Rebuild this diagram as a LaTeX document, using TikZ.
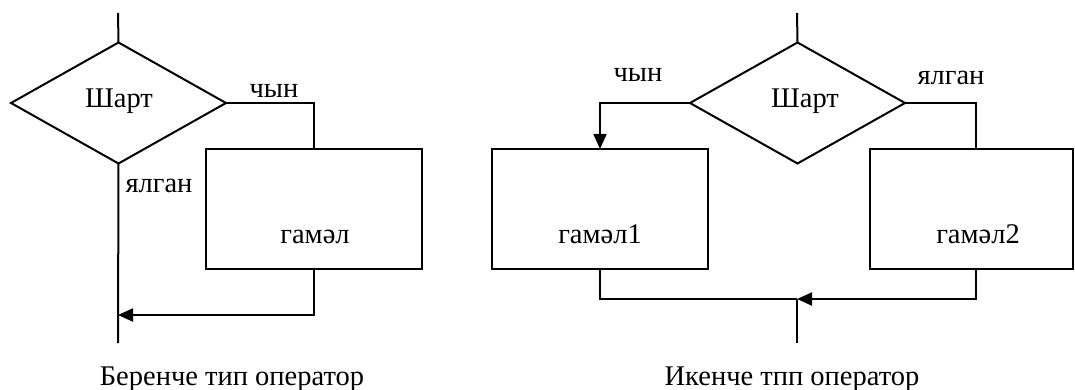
\documentclass[tikz,border=0pt]{standalone}
\usepackage{fontspec}
\setmainfont{Liberation Serif}
\usetikzlibrary{shapes.geometric,arrows.meta}
\tikzset{
  flow/.style={line width=2pt, line join=miter},
  arr/.style={flow, -{Triangle[length=15pt,width=13pt]}},
  cond/.style={diamond, draw, line width=2pt, inner sep=0pt, outer sep=0pt,
    minimum width=215pt, minimum height=121pt},
  act/.style={rectangle, draw, line width=2pt, inner sep=0pt, outer sep=0pt},
  txt/.style={inner sep=0pt, anchor=base, font=\fontsize{28.5}{34}\selectfont},
}
\begin{document}
\begin{tikzpicture}[x=1pt, y=-1pt]
  \useasboundingbox (0,0) rectangle (1075,390);

  % ---- first form: one branch ----
  \coordinate (t1) at (118,13);
  \node[cond] (d1) at (118.5,103) {};
  \node[txt] (s1) at (119,108) {Шарт};
  \node[act, minimum width=216pt, minimum height=120pt] (b1) at (314,209) {};
  \node[txt] (g1) at (315,243) {гамәл};
  \node[txt] (y1) at (274,98) {чын};
  \node[txt] (n1) at (159,193) {ялган};
  \coordinate (e1) at (118,343);
  \coordinate (m1) at (118,315);
  \node[txt] (c1) at (232,385) {Беренче тип оператор};

  \draw[flow] (t1) -- (d1.north);
  \draw[flow] (d1.east) -| (b1.north);
  \draw[flow] (d1.south) -- (e1);
  \draw[arr] (b1.south) |- (m1);

  % ---- second form: two branches ----
  \coordinate (t2) at (797,13);
  \node[cond] (d2) at (797.5,103) {};
  \node[txt] (s2) at (805,108) {Шарт};
  \node[act, minimum width=216pt, minimum height=120pt] (b21) at (600,209) {};
  \node[act, minimum width=203pt, minimum height=120pt] (b22) at (971.5,209) {};
  \node[txt] (g21) at (600,243) {гамәл1};
  \node[txt] (g22) at (978,243) {гамәл2};
  \node[txt] (y2) at (638,82) {чын};
  \node[txt] (n2) at (951,85) {ялган};
  \coordinate (j2) at (976,103);
  \coordinate (m2) at (797,299);
  \coordinate (e2) at (797,343);
  \node[txt] (c2) at (792,385) {Икенче тпп оператор};

  \draw[flow] (t2) -- (d2.north);
  \draw[arr] (d2.west) -| (b21.north);
  \draw[flow] (d2.east) -- (j2) -- (j2 |- b22.north);
  \draw[flow] (b21.south) |- (m2);
  \draw[arr] (j2 |- b22.south) |- (m2);
  \draw[flow] (m2) -- (e2);
\end{tikzpicture}
\end{document}
